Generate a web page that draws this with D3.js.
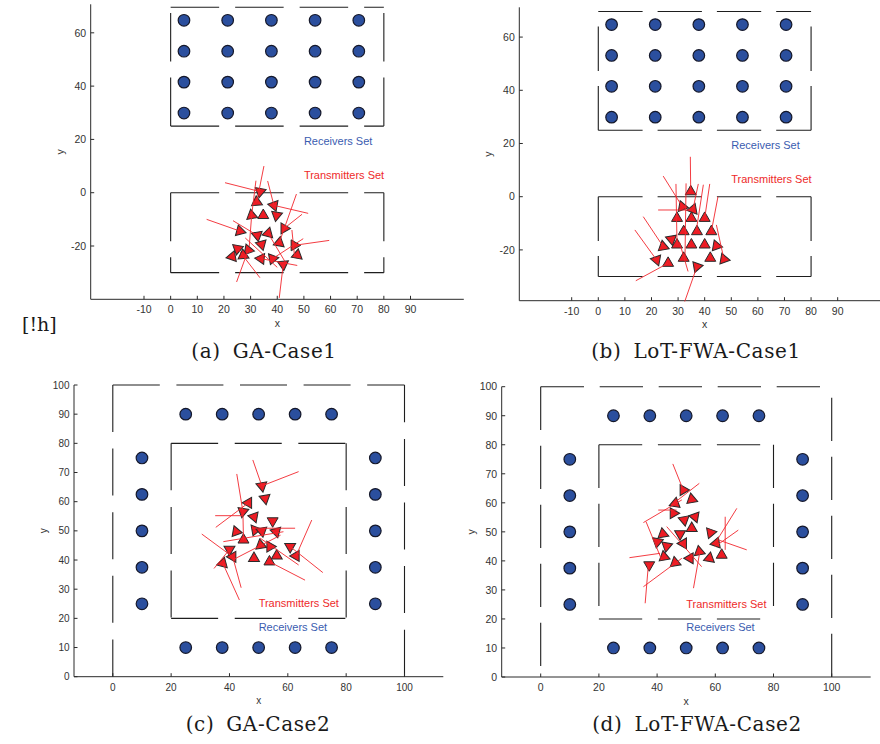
<!DOCTYPE html>
<html><head><meta charset="utf-8">
<script src="https://cdn.jsdelivr.net/npm/d3@7"></script>
<style>body{margin:0;background:#fff}svg{display:block}</style>
</head><body>
<script>
// ---------------- DATA ----------------
const recv1X = [5, 21.4, 37.8, 54.2, 70.6];
const recv1Y = [29.9, 41.5, 53.1, 64.7];
const recv2RowX = [25, 37.5, 50, 62.5, 75];
const recv2RowY = [90, 10];
const recv2ColX = [10, 90];
const recv2ColY = [25, 37.5, 50, 62.5, 75];
const regionsCase1 = [[0, 25, 80, 69.6], [0, -30, 80, 0]];
const regionsCase2 = [[0, 0, 100, 100], [20, 20, 80, 80]];
const ticksX1 = [-10, 0, 10, 20, 30, 40, 50, 60, 70, 80, 90];
const ticksY1 = [-20, 0, 20, 40, 60];
const ticksX2 = [0, 20, 40, 60, 80, 100];
const ticksY2 = [0, 10, 20, 30, 40, 50, 60, 70, 80, 90, 100];
const captionTags = ["(a)", "(b)", "(c)", "(d)"];
const captionTexts = ["GA-Case1", "LoT-FWA-Case1", "GA-Case2", "LoT-FWA-Case2"];

const aTxX = [33.6,32.3,30.4,34.75,38.75,39.75,26,32.5,36.6,42.6,34.1,40.75,46.4,47.5,25.1,29.1,23.1,27.25,33.9,38.25,42.25];
const aTxY = [0.4,-3.5,-8.5,-8.5,-4.75,-8.5,-14.4,-16,-15.25,-13.4,-19.4,-18.75,-19.75,-23.4,-21,-21.5,-24,-23.5,-24.75,-24.75,-26.9];
const aTxDir = [-100,95,100,90,170,-100,-15,160,75,120,-75,200,0,80,20,110,190,95,175,-110,-85];
const aBeams = [
 [20.4,3.75,33.6,0.4],[35,10,32.3,-3.5],[32,4.5,30.4,-8.5],[36.4,4.4,38.75,-4.75],
 [38.75,-4.75,51.6,-7.75],[13.5,-10,26,-14.4],[47.2,-0.5,40.75,-18.75],[49.3,-8.1,42.6,-13.4],
 [59.5,-17.9,46.4,-19.75],[49.75,-17.25,38.25,-24.75],[23.4,-10.5,32.5,-16],[24.75,-33.5,29.1,-21.5],
 [33.5,-31.9,25.1,-21],[40.75,-39.5,42.25,-26.9],[47.5,-27.3,33.9,-24.75],[28,-17,40,-28],
 [45.5,-14,46.5,-24],[30.4,-8.5,29.5,-20],[36.6,-15.25,43,-26]
];
const bTxX = [34.75,31.6,35.6,29.6,35,40,32.1,37.1,42.5,27.5,24.4,29.6,35,40,44.4,21.9,26.25,32.1,37.1,42.1,47.25];
const bTxY = [1.9,-3.75,-4.75,-8.1,-8.1,-8.1,-13.1,-13.1,-13.1,-16,-18.75,-18.1,-18.1,-18.1,-18.5,-23.75,-25,-23.1,-26.25,-23.1,-23.5];
const bTxDir = [90,-10,190,90,90,90,90,90,90,160,-20,90,90,90,-10,170,90,90,10,90,-10];
const bBeams = [
 [34.6,15,34.75,1.9],[24.4,7.75,31.6,-3.75],[22.5,-5,35.6,-5],[29.2,4.8,29.6,-18.1],
 [37.6,4.8,35.6,-4.75],[41.9,4.8,40,-8.1],[45,0,42.5,-13.1],[44.4,-10.6,47.25,-23.5],
 [16.9,-7.5,24.4,-18.75],[13.75,-12.5,21.9,-23.75],[14.1,-31.6,26.25,-25],[32.5,-39.4,37.1,-26.25],
 [33.75,-28.1,30.5,-17],[33,5,32.6,-23],[39.5,4.5,36.8,-13]
];
const cTxX = [51.1,52.2,46.5,44.6,48.4,54.8,42.3,48.8,51.1,56,44.8,50.7,53.9,40,41.1,48.4,56.2,60.8,62.8,53.7,37.7];
const cTxY = [65.4,61.1,59.6,56.6,54.8,53.4,49.7,50.3,49.9,49.7,46.9,45.1,44.6,43.6,41.1,40.6,41.4,44.6,41.4,39.4,38.9];
const cTxDir = [-80,160,60,-100,170,-90,-10,10,160,45,90,100,120,150,-60,-150,-30,150,-60,90,-45];
const cBeams = [
 [48,74.3,51.1,65.4],[51.1,65.4,63.7,70.3],[42.5,69.5,44.6,56.6],[35.1,55.2,44.6,55.2],
 [35.3,51.2,46.5,59.6],[44.6,56.6,44.8,46.9],[30.5,48.9,41.1,41.1],[37.9,46.3,58.5,49.7],
 [47.6,50.9,62.5,50.9],[68.2,53.7,62.8,41.4],[72,35.7,60.8,44.6],[65.9,33.1,53.7,39.4],
 [43.4,26.3,37.7,38.9],[44,30.5,41.1,41.1],[34.7,37.1,40,43.6],[41,40,57.5,48.5],[50.5,47.5,63.7,38.3]
];
const dTxX = [49,51.9,46.2,45.6,53,49.3,51.9,58.4,42,47.9,40.1,49,60.3,43.3,54.5,42.4,51.3,58,62.2,46.2,37.3];
const dTxY = [64.4,61.2,59.8,56.4,55.2,54.1,51.2,49.7,49.3,49.3,46.6,46,46.1,45.1,43.2,41.4,40.9,40.9,42,39.4,38.6];
const dTxDir = [120,-20,80,-120,170,-80,-150,130,-140,150,20,-60,190,140,-20,-20,-60,200,90,100,-90];
const dBeams = [
 [45.4,73.4,49,64.4],[54.5,66.7,45,59.3],[35.3,53.2,48.5,61],[67.4,58.1,59.9,46],
 [63.4,55.2,63.4,43.8],[67.9,50.6,59.9,44.9],[70.8,43.8,61.1,47.2],[30.5,41.1,41,42.6],
 [35.3,31.1,48.5,40.9],[35.9,25.4,37,38.6],[52.5,30.6,54.8,43.8],[36.2,53.5,41.6,40.3],
 [43.3,51.8,55.3,38],[40.4,57.5,46.7,57.5]
];
const labelsCase1 = {recv: [50, 17.8], tx: [50, 5.3]};
const labelsCase2 = {recv: [50, 15.8], tx: [50, 23.8]};

// ---------------- LAYOUT ----------------
const W = 880, H = 744;
const svg = d3.select("body").append("svg").attr("width", W).attr("height", H);
svg.append("rect").attr("width", W).attr("height", H).attr("fill", "#fff");

const AX = "#2a2a2a", BLUE = "#2b4f9e", RED = "#ed1c24";
const panels = [
 {xd: [-30, 110], xr: [90.7, 463.8], yd: [-40, 70.7], yr: [299.3, 4.3], tx: ticksX1, ty: ticksY1,
  regions: regionsCase1, case: 1, dash: "48.5,16", fs: 10.5,
  txX: aTxX, txY: aTxY, txDir: aTxDir, beams: aBeams, labels: labelsCase1, capX: 264, capY: 358},
 {xd: [-29.7, 110.2], xr: [519.3, 891.4], yd: [-39.1, 71.2], yr: [300.7, 7.3], tx: ticksX1, ty: ticksY1,
  regions: regionsCase1, case: 1, dash: "44.3,15", fs: 10.5,
  txX: bTxX, txY: bTxY, txDir: bTxDir, beams: bBeams, labels: labelsCase1, capX: 696, capY: 358},
 {xd: [-13.3, 113.3], xr: [74, 443.3], yd: [0, 100], yr: [676.7, 385], tx: ticksX2, ty: ticksY2,
  regions: regionsCase2, case: 2, dash: "47,16.6", fs: 10,
  txX: cTxX, txY: cTxY, txDir: cTxDir, beams: cBeams, labels: labelsCase2, capX: 258, capY: 731},
 {xd: [-13.4, 113.4], xr: [501.7, 870.7], yd: [0, 100], yr: [677, 386.7], tx: ticksX2, ty: ticksY2,
  regions: regionsCase2, case: 2, dash: "43.3,15.7", fs: 10.5,
  txX: dTxX, txY: dTxY, txDir: dTxDir, beams: dBeams, labels: labelsCase2, capX: 697, capY: 731}
];

const sansFont = "'Liberation Sans', Arial, Helvetica, sans-serif";
const serifFont = "'DejaVu Serif', 'Liberation Serif', serif";
const triSym = d3.symbol().type(d3.symbolTriangle).size(52);

panels.forEach((p, pi) => {
  const x = d3.scaleLinear().domain(p.xd).range(p.xr);
  const y = d3.scaleLinear().domain(p.yd).range(p.yr);
  const g = svg.append("g");

  const edge = (x0, y0, x1, y1) => g.append("line")
    .attr("x1", x(x0)).attr("y1", y(y0)).attr("x2", x(x1)).attr("y2", y(y1))
    .attr("stroke", "#1e1e1e").attr("stroke-width", 1.1).attr("stroke-dasharray", p.dash);
  if (p.case === 1) {
    const [r, t] = p.regions;
    edge(r[0], r[3], r[2], r[3]); edge(r[0], r[1], r[2], r[1]);
    edge(r[0], r[1], r[0], r[3]); edge(r[2], r[1], r[2], r[3]);
    edge(t[0], t[3], t[2], t[3]); edge(t[0], t[1], t[2], t[1]);
    edge(t[0], t[3], t[0], t[1]); edge(t[2], t[3], t[2], t[1]);
  } else {
    const [o, i] = p.regions;
    edge(o[0], o[3], o[2], o[3]);
    edge(o[0], o[3], o[0], o[1]);
    edge(o[2], o[1], o[2], o[3]);
    edge(i[0], i[3], i[2], i[3]); edge(i[0], i[1], i[2], i[1]);
    edge(i[0], i[3], i[0], i[1]); edge(i[2], i[3], i[2], i[1]);
  }

  const xMax = Math.min(p.xr[1], W);
  g.append("line").attr("x1", p.xr[0]).attr("x2", xMax).attr("y1", p.yr[0]).attr("y2", p.yr[0])
    .attr("stroke", AX).attr("stroke-width", 1);
  g.append("line").attr("x1", p.xr[0]).attr("x2", p.xr[0]).attr("y1", p.yr[0]).attr("y2", p.yr[1])
    .attr("stroke", AX).attr("stroke-width", 1);
  p.tx.forEach(v => {
    g.append("line").attr("x1", x(v)).attr("x2", x(v)).attr("y1", p.yr[0]).attr("y2", p.yr[0] - 3.5)
      .attr("stroke", AX).attr("stroke-width", 1);
    g.append("text").attr("x", x(v)).attr("y", p.yr[0] + 14).attr("text-anchor", "middle")
      .attr("font-family", sansFont).attr("font-size", p.fs).attr("fill", "#333").text(v);
  });
  p.ty.forEach(v => {
    g.append("line").attr("x1", p.xr[0]).attr("x2", p.xr[0] + 3.5).attr("y1", y(v)).attr("y2", y(v))
      .attr("stroke", AX).attr("stroke-width", 1);
    g.append("text").attr("x", p.xr[0] - 4.5).attr("y", y(v)).attr("dy", "0.36em").attr("text-anchor", "end")
      .attr("font-family", sansFont).attr("font-size", p.fs).attr("fill", "#333").text(v);
  });
  g.append("text").attr("x", x(p.case === 1 ? 40 : 50)).attr("y", p.yr[0] + 27.6).attr("text-anchor", "middle")
    .attr("font-family", sansFont).attr("font-size", p.fs).attr("fill", "#333").text("x");
  const yMid = (p.yr[0] + p.yr[1]) / 2;
  g.append("text").attr("transform", `translate(${p.xr[0] - 27},${yMid}) rotate(-90)`).attr("text-anchor", "middle")
    .attr("font-family", sansFont).attr("font-size", p.fs).attr("fill", "#333").text("y");

  let recv = [];
  if (p.case === 1) {
    recv1Y.forEach(yy => recv1X.forEach(xx => recv.push([xx, yy])));
  } else {
    recv2RowY.forEach(yy => recv2RowX.forEach(xx => recv.push([xx, yy])));
    recv2ColX.forEach(xx => recv2ColY.forEach(yy => recv.push([xx, yy])));
  }
  g.selectAll("circle.rx").data(recv).join("circle").attr("class", "rx")
    .attr("cx", d => x(d[0])).attr("cy", d => y(d[1])).attr("r", 5.8)
    .attr("fill", BLUE).attr("stroke", "#15182a").attr("stroke-width", 1.2);

  const tx = p.txX.map((v, i) => [v, p.txY[i], p.txDir[i]]);
  g.selectAll("path.tx").data(tx).join("path").attr("class", "tx")
    .attr("d", triSym)
    .attr("transform", d => `translate(${x(d[0])},${y(d[1])}) rotate(${90 - d[2]})`)
    .attr("fill", RED).attr("stroke", "#2a2a2a").attr("stroke-width", 1).attr("stroke-linejoin", "miter");
  g.selectAll("line.beam").data(p.beams).join("line").attr("class", "beam")
    .attr("x1", d => x(d[0])).attr("y1", d => y(d[1])).attr("x2", d => x(d[2])).attr("y2", d => y(d[3]))
    .attr("stroke", "#f2262c").attr("stroke-width", 0.9);

  g.append("text").attr("x", x(p.labels.recv[0])).attr("y", y(p.labels.recv[1]))
    .attr("font-family", sansFont).attr("font-size", 11).attr("fill", "#3a5cb0").text("Receivers Set");
  g.append("text").attr("x", x(p.labels.tx[0])).attr("y", y(p.labels.tx[1]))
    .attr("font-family", sansFont).attr("font-size", 11).attr("fill", "#ee2a2a").text("Transmitters Set");

  const cap = svg.append("text").attr("x", p.capX).attr("y", p.capY).attr("text-anchor", "middle")
    .attr("font-family", serifFont).attr("font-size", 20).attr("fill", "#1a1a1a").attr("letter-spacing", 0.6);
  cap.append("tspan").text(captionTags[pi]);
  cap.append("tspan").attr("dx", 12).text(captionTexts[pi]);
});
svg.append("text").attr("x", 22).attr("y", 331).attr("font-family", serifFont).attr("font-size", 19)
  .attr("fill", "#1a1a1a").text("[!h]");
</script>
</body></html>
